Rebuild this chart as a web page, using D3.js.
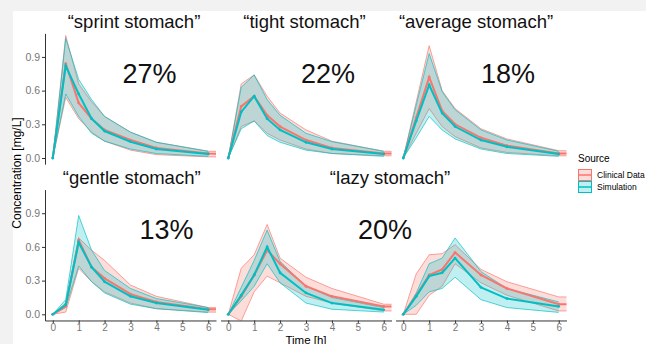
<!DOCTYPE html>
<html>
<head>
<meta charset="utf-8">
<script src="https://cdn.jsdelivr.net/npm/d3@7"></script>
<style>
  body { margin: 0; background: #f2f2f2; }
  svg { display: block; font-family: "Liberation Sans", Arial, sans-serif; }
</style>
</head>
<body>
<div id="chart"></div>
<script>
// time points (h)
const simTimes = [0, 0.5, 1, 1.5, 2, 3, 4, 6]
const clinTimes = [0, 0.5, 1, 1.5, 2, 3, 4, 6, 8]

const panelTitles = ['\u201Csprint stomach\u201D', '\u201Ctight stomach\u201D', '\u201Caverage stomach\u201D',
  '\u201Cgentle stomach\u201D', '\u201Clazy stomach\u201D']
const pctLabels = ['27%', '22%', '18%', '13%', '20%']

// clinical data per panel (mean, low, high)
const clinMean = [
  [0, 0.84, 0.49, 0.35, 0.25, 0.16, 0.09, 0.04, 0.03],
  [0, 0.46, 0.55, 0.38, 0.28, 0.16, 0.09, 0.04, 0.035],
  [0, 0.36, 0.72, 0.42, 0.30, 0.18, 0.11, 0.04, 0.035],
  [0, 0.07, 0.66, 0.42, 0.32, 0.18, 0.11, 0.045, 0.04],
  [0, 0.16, 0.35, 0.57, 0.45, 0.25, 0.16, 0.07, 0.065],
  [0, 0.17, 0.35, 0.40, 0.55, 0.35, 0.23, 0.09, 0.085]
]
const clinLow = [
  [0, 0.54, 0.35, 0.23, 0.15, 0.07, 0.03, 0.01, 0.01],
  [0, 0.28, 0.33, 0.22, 0.16, 0.08, 0.04, 0.02, 0.015],
  [0, 0.22, 0.44, 0.28, 0.19, 0.09, 0.05, 0.02, 0.015],
  [0, 0.02, 0.41, 0.29, 0.20, 0.10, 0.05, 0.02, 0.015],
  [0, -0.06, 0.20, 0.34, 0.28, 0.16, 0.10, 0.03, 0.03],
  [0, 0.0, 0.17, 0.25, 0.45, 0.28, 0.17, 0.03, 0.03]
]
const clinHigh = [
  [0, 1.09, 0.66, 0.50, 0.37, 0.23, 0.14, 0.06, 0.055],
  [0, 0.66, 0.74, 0.55, 0.40, 0.25, 0.15, 0.06, 0.055],
  [0, 0.50, 1.00, 0.60, 0.44, 0.26, 0.17, 0.065, 0.06],
  [0, 0.10, 0.68, 0.57, 0.48, 0.26, 0.16, 0.06, 0.055],
  [0, 0.41, 0.53, 0.80, 0.50, 0.33, 0.23, 0.09, 0.085],
  [0, 0.36, 0.53, 0.54, 0.62, 0.40, 0.29, 0.155, 0.15]
]

// simulation per panel (mean, low, high)
const simMean = [
  [0, 0.82, 0.57, 0.35, 0.24, 0.145, 0.08, 0.035],
  [0, 0.41, 0.55, 0.35, 0.25, 0.14, 0.08, 0.035],
  [0, 0.33, 0.65, 0.40, 0.28, 0.16, 0.10, 0.035],
  [0, 0.085, 0.64, 0.42, 0.29, 0.16, 0.10, 0.04],
  [0, 0.17, 0.35, 0.60, 0.37, 0.19, 0.10, 0.04],
  [0, 0.16, 0.34, 0.37, 0.50, 0.24, 0.14, 0.07]
]
const simLow = [
  [0, 0.57, 0.37, 0.22, 0.15, 0.08, 0.04, 0.015],
  [0, 0.26, 0.33, 0.20, 0.14, 0.07, 0.04, 0.015],
  [0, 0.18, 0.37, 0.25, 0.17, 0.08, 0.04, 0.015],
  [0, 0.06, 0.43, 0.29, 0.19, 0.09, 0.05, 0.015],
  [0, 0.12, 0.25, 0.45, 0.28, 0.10, 0.045, 0.02],
  [0, 0.08, 0.20, 0.23, 0.33, 0.13, 0.06, 0.017]
]
const simHigh = [
  [0, 1.065, 0.70, 0.52, 0.37, 0.23, 0.14, 0.06],
  [0, 0.63, 0.74, 0.52, 0.38, 0.22, 0.145, 0.06],
  [0, 0.47, 0.93, 0.59, 0.43, 0.25, 0.16, 0.06],
  [0, 0.13, 0.88, 0.57, 0.39, 0.23, 0.14, 0.06],
  [0, 0.24, 0.48, 0.75, 0.47, 0.25, 0.15, 0.06],
  [0, 0.19, 0.45, 0.50, 0.68, 0.38, 0.23, 0.11]
]

const yTicks = [0, 0.3, 0.6, 0.9]
const xTicks = [0, 1, 2, 3, 4, 5, 6]
const legendLabels = ['Clinical Data', 'Simulation']

// layout
const width = 646, height = 344
const panelLeft = [45, 220.5, 395.5]
const panelW = 171
const rowZero = [158, 314.3]
const unit = 112.3
const titleX = [134, 304.5, 476, 131.7, 390]
const pctX = [149.5, 328, 508, 166.5, 385]
const red = '#F8766D', teal = '#00BFC4'

const svg = d3.select('#chart').append('svg')
  .attr('width', width)
  .attr('height', height)

svg.append('rect').attr('x', 13).attr('y', 11)
  .attr('width', width - 13).attr('height', height - 11)
  .attr('fill', '#fff')

const defs = svg.append('defs')

for (let p = 0; p < 6; p++) {
  const row = Math.floor(p / 3), col = p % 3
  const x = d3.scaleLinear().domain([-0.3, 6.3])
    .range([panelLeft[col], panelLeft[col] + panelW])
  const y = d3.scaleLinear().domain([-0.055, 1.11])
    .range([rowZero[row] + 0.055 * unit, rowZero[row] - 1.11 * unit])

  defs.append('clipPath').attr('id', 'clip' + p)
    .append('rect')
    .attr('x', x.range()[0]).attr('y', y.range()[1])
    .attr('width', panelW).attr('height', y.range()[0] - y.range()[1])

  const g = svg.append('g').attr('clip-path', `url(#clip${p})`)

  const series = [
    {t: clinTimes, m: clinMean[p], lo: clinLow[p], hi: clinHigh[p], c: red},
    {t: simTimes, m: simMean[p], lo: simLow[p], hi: simHigh[p], c: teal}
  ]

  const area = d3.area().x(d => x(d.t)).y0(d => y(d.lo)).y1(d => y(d.hi))
  const line = d3.line().x(d => x(d.t)).y(d => y(d.v))

  series.forEach(s => {
    const pts = s.t.map((t, i) => ({t: t, lo: s.lo[i], hi: s.hi[i]}))
    g.append('path').datum(pts)
      .attr('d', area)
      .attr('fill', s.c).attr('fill-opacity', 0.25)
    g.append('path').datum(pts.map(d => ({t: d.t, v: d.lo})))
      .attr('d', line).attr('fill', 'none')
      .attr('stroke', s.c).attr('stroke-width', 0.9).attr('stroke-opacity', 0.75)
    g.append('path').datum(pts.map(d => ({t: d.t, v: d.hi})))
      .attr('d', line).attr('fill', 'none')
      .attr('stroke', s.c).attr('stroke-width', 0.9).attr('stroke-opacity', 0.75)
  })

  series.forEach(s => {
    const pts = s.t.map((t, i) => ({t: t, v: s.m[i]}))
    g.append('path').datum(pts)
      .attr('d', line).attr('fill', 'none')
      .attr('stroke', s.c).attr('stroke-width', 2)
    g.selectAll(null).data(pts).enter().append('circle')
      .attr('cx', d => x(d.t)).attr('cy', d => y(d.v))
      .attr('r', 1.4).attr('fill', s.c)
  })

  // axes
  if (col === 0) {
    const ay = svg.append('g')
      .attr('transform', `translate(${x.range()[0]},0)`)
      .call(d3.axisLeft(y).tickValues(yTicks).tickFormat(d3.format('.1f'))
        .tickSize(3).tickPadding(2).tickSizeOuter(0))
    ay.select('.domain').attr('stroke', '#333')
    ay.selectAll('.tick line').attr('stroke', '#333')
    ay.selectAll('.tick text').attr('fill', '#777').attr('font-size', 10.5)
      .attr('font-family', '"Liberation Sans", Arial, sans-serif')
  }
  if (row === 1) {
    const ax = svg.append('g')
      .attr('transform', `translate(0,${y.range()[0]})`)
      .call(d3.axisBottom(x).tickValues(xTicks).tickFormat(d3.format('d'))
        .tickSize(3).tickPadding(0).tickSizeOuter(0))
    ax.select('.domain').attr('stroke', '#333')
    ax.selectAll('.tick line').attr('stroke', '#333')
    ax.selectAll('.tick text').attr('fill', '#777').attr('font-size', 10)
      .attr('font-family', '"Liberation Sans", Arial, sans-serif')
  }

  if (p < 5) {
    svg.append('text')
      .attr('x', titleX[p]).attr('y', rowZero[row] - 130)
      .attr('text-anchor', 'middle').attr('font-size', 18.5)
      .attr('fill', '#111')
      .text(panelTitles[p])
    svg.append('text')
      .attr('x', pctX[p]).attr('y', rowZero[row] - 75)
      .attr('text-anchor', 'middle').attr('font-size', 27)
      .attr('fill', '#111')
      .text(pctLabels[p])
  }
}

// axis titles
svg.append('text')
  .attr('transform', 'translate(21,173) rotate(-90)')
  .attr('text-anchor', 'middle').attr('font-size', 12)
  .text('Concentration [mg/L]')
svg.append('text')
  .attr('x', 306).attr('y', 343.5)
  .attr('text-anchor', 'middle').attr('font-size', 11.5)
  .text('Time [h]')

// legend
const lg = svg.append('g').attr('transform', 'translate(578,0)')
lg.append('text').attr('x', 0).attr('y', 162).attr('font-size', 10).text('Source')
legendLabels.forEach((lab, i) => {
  const c = i === 0 ? red : teal
  const ky = 169 + i * 12
  lg.append('rect').attr('x', 0.5).attr('y', ky + 0.5).attr('width', 13).attr('height', 11)
    .attr('fill', c).attr('fill-opacity', 0.25)
    .attr('stroke', c).attr('stroke-width', 1)
  lg.append('line').attr('x1', 1).attr('x2', 13).attr('y1', ky + 6).attr('y2', ky + 6)
    .attr('stroke', c).attr('stroke-width', 1.5)
  lg.append('text').attr('x', 19).attr('y', ky + 9).attr('font-size', 8.5).text(lab)
})
</script>
</body>
</html>
